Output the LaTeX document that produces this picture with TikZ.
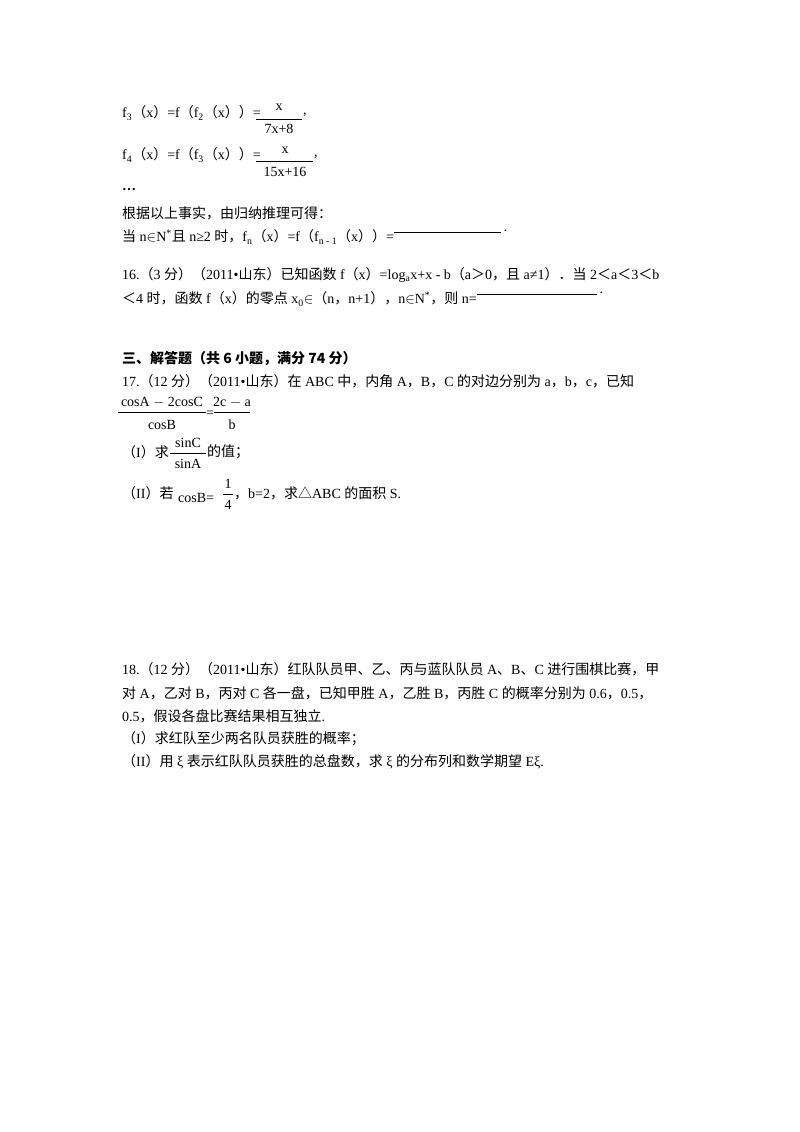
\documentclass[tikz,border=0pt]{standalone}
\usepackage{fontspec}
\setmainfont{Liberation Serif}
\newfontfamily\cjk{Noto Sans CJK SC}
\newcommand{\dn}[1]{\textsubscript{#1}}
\newcommand{\up}[1]{\textsuperscript{#1}}
\begin{document}
\begin{tikzpicture}[x=1pt,y=-1pt,
  tx/.style={anchor=west,inner sep=0pt,font=\fontsize{14}{16}\selectfont},
  fr/.style={anchor=center,inner sep=0pt,font=\fontsize{14}{16}\selectfont},
  bar/.style={line width=0.8pt}]
\fill[white] (0,0) rectangle (800,1132);
\useasboundingbox (0,0) rectangle (800,1132);
% f3
\node[tx] (l1) at (122,113) {f\dn{3}{\cjk（}x{\cjk）}=f{\cjk（}f\dn{2}{\cjk（}x{\cjk））}=};
\node[fr] (n1) at (279,107) {x};
\node[fr] (d1) at (279,129) {7x+8};
\draw[bar] (256,119) -- (302,119);
\node[tx] (c1) at (303,115) {,};
% f4
\node[tx] (l2) at (122,155) {f\dn{4}{\cjk（}x{\cjk）}=f{\cjk（}f\dn{3}{\cjk（}x{\cjk））}=};
\node[fr] (n2) at (285,150) {x};
\node[fr] (d2) at (285,172) {15x+16};
\draw[bar] (256,161) -- (313,161);
\node[tx] (c2) at (314,157) {,};
\node[tx] (dots) at (122,190) {\textbf{…}};
\node[tx] (l3) at (122,213) {\cjk 根据以上事实，由归纳推理可得：};
\node[tx] (l4) at (122,237) {{\cjk 当} n$\in$N\up{*}{\cjk 且} n≥2 {\cjk 时，}f\dn{n}{\cjk（}x{\cjk）}=f{\cjk（}f\dn{n - 1}{\cjk（}x{\cjk））}=};
\coordinate (u4) at ([yshift=5pt]l4.east);
\draw[bar] (u4) -- ++(107,0) coordinate (u4e);
\node[tx,anchor=south west] (p4) at (u4e) {\,.};
% 16
\node[tx] (l5) at (122,275) {16.{\cjk （}3 {\cjk 分）（}2011•{\cjk 山东）已知函数} f{\cjk（}x{\cjk）}=log\dn{a}x+x - b{\cjk（}a{\cjk ＞}0{\cjk，且} a≠1{\cjk）．当} 2{\cjk ＜}a{\cjk ＜}3{\cjk ＜}b};
\node[tx] (l6) at (122,299) {{\cjk ＜}4 {\cjk 时，函数} f{\cjk（}x{\cjk）的零点} x\dn{0}$\in${\cjk（}n{\cjk，}n+1{\cjk），}n$\in$N\up{*}{\cjk，则} n=};
\coordinate (u6) at ([yshift=5pt]l6.east);
\draw[bar] (u6) -- ++(120,0) coordinate (u6e);
\node[tx,anchor=south west] (p6) at (u6e) {\,.};
% heading
\node[tx] (h) at (122,359) {\cjk\bfseries 三、解答题（共 6 小题，满分 74 分）};
% 17
\node[tx] (l7) at (122,381) {17.{\cjk （}12 {\cjk 分）（}2011•{\cjk 山东）在} ABC {\cjk 中，内角} A{\cjk ，}B{\cjk ，}C {\cjk 的对边分别为} a{\cjk ，}b{\cjk ，}c{\cjk ，已知}};
\node[fr] (n7) at (162,402) {cosA $-$ 2cosC};
\node[fr] (d7) at (162,425) {cosB};
\draw[bar] (118,412) -- (206,412);
\node[fr] (e7) at (210,414) {=};
\node[fr] (n8) at (232,402) {2c $-$ a};
\node[fr] (d8) at (232,425) {b};
\draw[bar] (214,412) -- (250,412);
\node[tx] (l8) at (122,452) {{\cjk （}I{\cjk ）求}};
\node[fr] (n9) at (188,443) {sinC};
\node[fr] (d9) at (188,464) {sinA};
\draw[bar] (170,453) -- (206,453);
\node[tx] (l8b) at (207,452) {\cjk 的值；};
\node[tx] (l9) at (122,493) {{\cjk （}II{\cjk ）若}};
\node[tx] (l9b) at (178,498) {cosB=};
\node[fr] (n10) at (228,484) {1};
\node[fr] (d10) at (228,505) {4};
\draw[bar] (223,494) -- (233,494);
\node[tx] (l9c) at (234,493) {{\cjk ，}b=2{\cjk ，求△}ABC {\cjk 的面积} S.};
% 18
\node[tx] (m1) at (122,669) {18.{\cjk （}12 {\cjk 分）（}2011•{\cjk 山东）红队队员甲、乙、丙与蓝队队员} A{\cjk 、}B{\cjk 、}C {\cjk 进行围棋比赛，甲}};
\node[tx] (m2) at (122,693) {{\cjk 对} A{\cjk ，乙对} B{\cjk ，丙对} C {\cjk 各一盘，已知甲胜} A{\cjk ，乙胜} B{\cjk ，丙胜} C {\cjk 的概率分别为} 0.6{\cjk ，}0.5{\cjk ，}};
\node[tx] (m3) at (122,716) {0.5{\cjk ，假设各盘比赛结果相互独立}.};
\node[tx] (m4) at (122,739) {{\cjk （}I{\cjk ）求红队至少两名队员获胜的概率；}};
\node[tx] (m5) at (122,762) {{\cjk （}II{\cjk ）用} ξ {\cjk 表示红队队员获胜的总盘数，求} ξ {\cjk 的分布列和数学期望} Eξ.};
\end{tikzpicture}
\end{document}
